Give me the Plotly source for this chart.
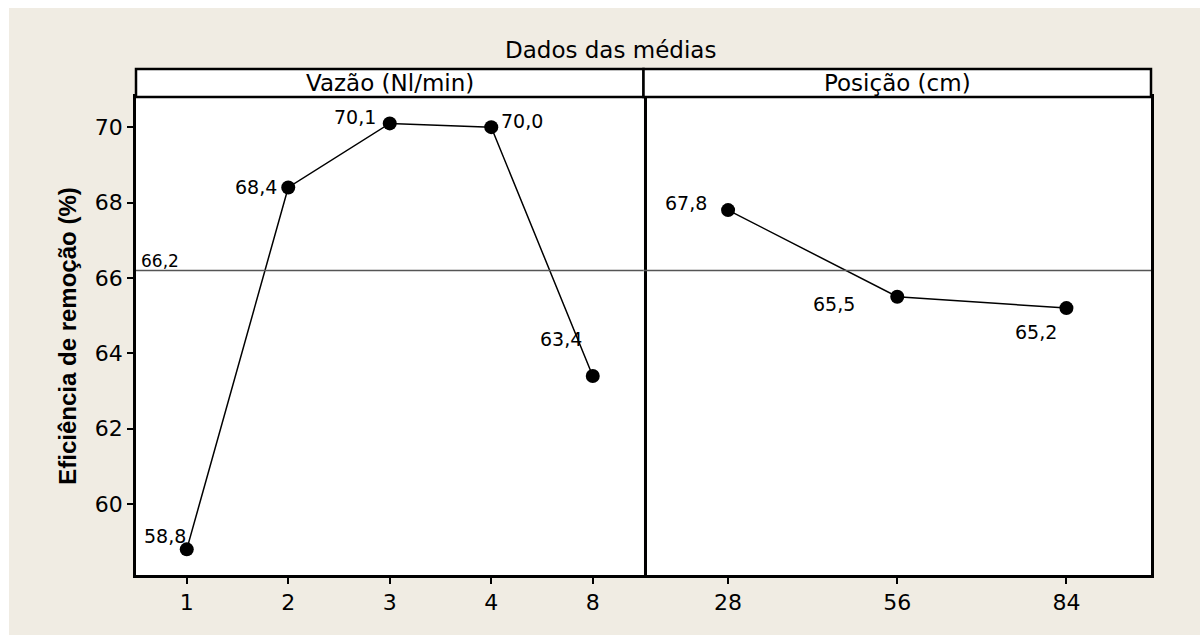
import plotly.graph_objects as go
from plotly.subplots import make_subplots

# ---- data ----
title = "Dados das médias"
y_title = "Eficiência de remoção (%)"
vazao_labels = ["1", "2", "3", "4", "8"]
vazao_means = [58.8, 68.4, 70.1, 70.0, 63.4]
posicao_labels = ["28", "56", "84"]
posicao_means = [67.8, 65.5, 65.2]
grand_mean = 66.2
panel_titles = ["Vazão (Nl/min)", "Posição (cm)"]
y_ticks = [60, 62, 64, 66, 68, 70]

# ---- style ----
vazao_offsets = [(-22, 13), (-32, 0), (-35, 6), (31, 6), (-32, 37)]
posicao_offsets = [(-42, 7), (-63, -7), (-30, -24)]
FONT = "DejaVu Sans, Verdana, sans-serif"
BEIGE = "#F0ECE3"
L, R, T, B = 136, 49, 97, 60
W, H = 1200 - L - R, 635 - T - B


def fmt(v):
    return f"{v:.1f}".replace(".", ",")


fig = make_subplots(rows=1, cols=2, shared_yaxes=True, horizontal_spacing=0)

for col, (labels, vals) in enumerate([(vazao_labels, vazao_means), (posicao_labels, posicao_means)], start=1):
    xs = list(range(len(labels)))
    fig.add_trace(go.Scatter(x=xs, y=vals, mode="lines+markers",
                             line=dict(color="black", width=1.5),
                             marker=dict(color="black", size=14),
                             showlegend=False, hoverinfo="skip"), row=1, col=col)
    fig.update_xaxes(tickvals=xs, ticktext=labels, range=[-0.5, len(labels) - 0.5],
                     row=1, col=col)

common_axis = dict(showline=True, linecolor="black", linewidth=2.5,
                   showgrid=False, zeroline=False, ticks="outside", ticklen=6,
                   tickwidth=2, tickcolor="black",
                   tickfont=dict(family=FONT, size=22, color="black"))
fig.update_xaxes(mirror=True, **common_axis)
fig.update_yaxes(**common_axis)
fig.update_yaxes(range=[58.12, 70.8], tickvals=y_ticks, mirror=True, row=1, col=1)
fig.update_yaxes(ticks="", showticklabels=False, side="right", mirror=False, row=1, col=2)
fig.update_yaxes(title=dict(text="<b>" + y_title + "</b>", standoff=12,
                            font=dict(family="Liberation Sans Narrow, Arial Narrow, Liberation Sans, sans-serif",
                                      size=24, color="black")), row=1, col=1)

# grand mean reference line
for col in (1, 2):
    fig.add_hline(y=grand_mean, line=dict(color="#555555", width=1.5), row=1, col=col)

fig.add_annotation(x=0, y=grand_mean, xref="paper", yref="y", text=fmt(grand_mean),
                   showarrow=False, xanchor="left", yanchor="bottom", xshift=3, yshift=-3,
                   font=dict(family=FONT, size=17, color="black"))
for xa, vals, offs in [("x", vazao_means, vazao_offsets), ("x2", posicao_means, posicao_offsets)]:
    for i, (v, (dx, dy)) in enumerate(zip(vals, offs)):
        fig.add_annotation(x=i, y=v, xref=xa, yref="y", text=fmt(v), showarrow=False,
                           xanchor="center", yanchor="middle", xshift=dx, yshift=dy,
                           font=dict(family=FONT, size=19, color="black"))

# panel header strips
strip_top = 1 + 28 / H
for ax, txt in [("xaxis", panel_titles[0]), ("xaxis2", panel_titles[1])]:
    dom = fig.layout[ax].domain
    fig.add_shape(type="rect", xref="paper", yref="paper", x0=dom[0], x1=dom[1], y0=1, y1=strip_top,
                  line=dict(color="black", width=2.5), fillcolor="white", layer="above")
    fig.add_annotation(x=(dom[0] + dom[1]) / 2, y=(1 + strip_top) / 2, xref="paper", yref="paper",
                       text=txt, showarrow=False, xanchor="center", yanchor="middle",
                       font=dict(family=FONT, size=23, color="black"))

# overall title, centred over the whole graph region
fig.add_annotation(x=(610 - L) / W, y=1 + (T - 50) / H, xref="paper", yref="paper", text=title,
                   showarrow=False, xanchor="center", yanchor="middle",
                   font=dict(family=FONT, size=23, color="black"))

# white strips at top and left of the beige frame
fig.add_shape(type="rect", xref="paper", yref="paper", x0=-L / W, x1=(1200 - L) / W,
              y0=1 + (T - 8) / H, y1=1 + T / H, line=dict(width=0), fillcolor="white", layer="below")
fig.add_shape(type="rect", xref="paper", yref="paper", x0=-L / W, x1=(9 - L) / W,
              y0=-B / H, y1=1 + T / H, line=dict(width=0), fillcolor="white", layer="below")

fig.update_layout(width=1200, height=635, margin=dict(l=L, r=R, t=T, b=B),
                  paper_bgcolor=BEIGE, plot_bgcolor="white")

fig.write_html("out.html")
